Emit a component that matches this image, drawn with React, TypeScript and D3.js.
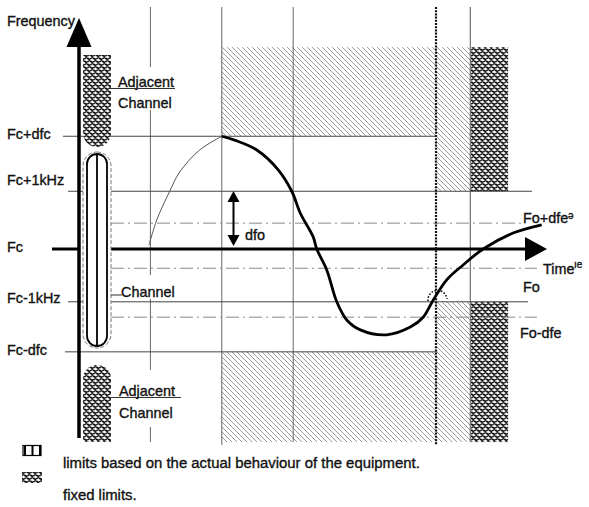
import React from "react";
import * as d3 from "d3";

// ---- data (time in arbitrary units, frequency offset in kHz from Fc) ----
const freqLabels = ["Fc+dfc", "Fc+1kHz", "Fc", "Fc-1kHz", "Fc-dfc"];
const freqLevels = [2.05, 1.05, 0, -0.96, -1.87];
const foLabels = ["Fo+dfe", "Fo", "Fo-dfe"];
const foLevels = [0.47, -0.35, -1.24];
const timeLines = [1, 2, 3, 5, 5.48];
const fixedBlock = [5.49, 6.01];
const thinCurve: [number, number][] = [
  [0.98, 0.07], [1.09, 0.53], [1.27, 1.05], [1.41, 1.4], [1.69, 1.8], [2.0, 2.05],
];
const thickCurve: [number, number][] = [
  [2.0, 2.05], [2.18, 1.98], [2.49, 1.8], [2.79, 1.44], [2.98, 1.05], [3.1, 0.65],
  [3.28, 0.22], [3.33, 0], [3.47, -0.38], [3.61, -0.96], [3.75, -1.29], [3.94, -1.47],
  [4.31, -1.56], [4.64, -1.42], [4.82, -1.24], [4.96, -0.93], [5.15, -0.56],
  [5.38, -0.29], [5.66, 0], [6.08, 0.29], [6.48, 0.44],
];
const fTop = 3.67;
const fBottom = -3.51;

const W = 589;
const H = 507;
const FONT = "'Liberation Sans', Arial, Helvetica, sans-serif";

export default function App() {
  const x = d3.scaleLinear().domain([0, 1]).range([79, 150.4]);
  const y = d3.scaleLinear().domain([0, 1]).range([249, 194]);
  const line = d3
    .line<[number, number]>()
    .x((d) => x(d[0]))
    .y((d) => y(d[1]))
    .curve(d3.curveCatmullRom.alpha(0.5));

  const axX = x(0);
  const yTopLine = 7;
  const yBot = y(fBottom);
  const yHatchTop = y(fTop);
  const [yFcdfc, yF1k, yFc, yFm1k, yFmdfc] = freqLevels.map((v) => y(v));
  const tx = timeLines.map((t) => x(t));
  const blkL = axX + 4;
  const blkR = axX + 32;
  const labelLeftEnds = [63, 68, 52, 68, 65];
  const rightEnds = [tx[3], 532, 0, 528, tx[3]];

  const txt = (s: string, xx: number, yy: number, size = 14.4) => (
    <text x={xx} y={yy} fontSize={size} fontFamily={FONT} fill="#111" stroke="#111" strokeWidth={0.35}>
      {s}
    </text>
  );

  return (
    <svg
      width={W}
      height={H}
      style={{ position: "absolute", left: 0, top: 0, background: "#fff" }}
    >
      <defs>
        <pattern id="hatch" patternUnits="userSpaceOnUse" width={5} height={5}>
          <path d="M0,0 L5,5 M-1,4 L1,6 M4,-1 L6,1" stroke="#8c8c8c" strokeWidth={0.9} />
        </pattern>
        <pattern id="cross" patternUnits="userSpaceOnUse" width={6} height={6}>
          <rect width={6} height={6} fill="#fff" />
          <path d="M0,1 L3,2.6 M3,4 L6,5.6" stroke="#111" strokeWidth={1.9} />
          <path d="M3.2,2 L6,0.4 M0,5 L2.8,3.4" stroke="#222" strokeWidth={1.5} />
        </pattern>
      </defs>

      {/* hatched regions */}
      <rect x={tx[1]} y={yHatchTop} width={tx[3] - tx[1]} height={yFcdfc - yHatchTop} fill="url(#hatch)" />
      <rect x={tx[3]} y={yHatchTop} width={tx[4] - tx[3]} height={yF1k - yHatchTop} fill="url(#hatch)" />
      <rect x={tx[1]} y={yFmdfc} width={tx[3] - tx[1]} height={yBot - yFmdfc} fill="url(#hatch)" />
      <rect x={tx[3]} y={yFm1k} width={tx[4] - tx[3]} height={yBot - yFm1k} fill="url(#hatch)" />

      {/* fixed limit blocks right */}
      <rect x={x(fixedBlock[0])} y={yHatchTop} width={x(fixedBlock[1]) - x(fixedBlock[0])} height={yF1k - yHatchTop} fill="url(#cross)" />
      <rect x={x(fixedBlock[0])} y={yFm1k} width={x(fixedBlock[1]) - x(fixedBlock[0])} height={yBot - yFm1k} fill="url(#cross)" />

      {/* vertical time lines */}
      <line x1={tx[0]} x2={tx[0]} y1={yTopLine} y2={67} stroke="#666" />
      <line x1={tx[0]} x2={tx[0]} y1={110} y2={275} stroke="#666" />
      <line x1={tx[0]} x2={tx[0]} y1={299} y2={370} stroke="#666" />
      <line x1={tx[0]} x2={tx[0]} y1={427} y2={yBot} stroke="#666" />
      <line x1={tx[1]} x2={tx[1]} y1={yTopLine} y2={yBot + 3} stroke="#666" />
      <line x1={tx[2]} x2={tx[2]} y1={yTopLine} y2={yBot} stroke="#666" />
      <line x1={tx[4]} x2={tx[4]} y1={yTopLine} y2={yBot} stroke="#555" />

      {/* dash-dot Fo lines */}
      {foLevels.map((v, i) => (
        <line key={"fo" + i} x1={blkR} x2={i === 0 ? 522 : 537} y1={y(v)} y2={y(v)} stroke="#8a8a8a" strokeWidth={1} strokeDasharray="13 4 2 4" />
      ))}

      {/* solid frequency lines */}
      {freqLevels.map((v, i) =>
        i === 2 ? null : (
          <g key={"fl" + i}>
            <line x1={labelLeftEnds[i]} x2={axX} y1={y(v)} y2={y(v)} stroke="#444" />
            <line x1={axX} x2={rightEnds[i]} y1={y(v)} y2={y(v)} stroke="#444" />
          </g>
        )
      )}
      {/* Fc thick line + time arrow */}
      <line x1={labelLeftEnds[2]} x2={axX} y1={yFc} y2={yFc} stroke="#000" strokeWidth={3} />
      <line x1={blkR} x2={526} y1={yFc} y2={yFc} stroke="#000" strokeWidth={3} />
      <path d={`M525,${yFc - 12} L547,${yFc} L525,${yFc + 12} Z`} fill="#000" />

      {/* dotted vertical at t=5 */}
      <line x1={tx[3]} x2={tx[3]} y1={yTopLine} y2={yBot + 3} stroke="#111" strokeWidth={2.2} strokeDasharray="2 1.2" />

      {/* left adjacent (fixed) blocks */}
      <path d={`M${blkL},55 H${blkR} V133 A14,14 0 0 1 ${blkL},133 Z`} fill="url(#cross)" />
      <path d={`M${blkL},${yBot} V379 A14,14 0 0 1 ${blkR},379 V${yBot} Z`} fill="url(#cross)" />

      {/* channel block */}
      <rect x={blkL} y={152} width={blkR - blkL} height={196} rx={14} fill="#fff" stroke="#777" strokeWidth={1} strokeDasharray="4 2" />
      <rect x={blkL + 4} y={154} width={blkR - blkL - 8} height={192} rx={10} fill="none" stroke="#000" strokeWidth={1.8} />
      <line x1={(blkL + blkR) / 2} x2={(blkL + blkR) / 2} y1={154} y2={346} stroke="#000" strokeWidth={1.8} />

      {/* frequency axis */}
      <line x1={axX} x2={axX} y1={46} y2={438} stroke="#000" strokeWidth={3.5} />
      <path d={`M${axX},18 L${axX + 12.5},47 L${axX - 12.5},47 Z`} fill="#000" />

      {/* curves */}
      <path d={line(thinCurve) ?? ""} fill="none" stroke="#555" strokeWidth={1} />
      <path d={line(thickCurve) ?? ""} fill="none" stroke="#000" strokeWidth={2.8} />

      {/* dotted small arc */}
      <path d={`M428,301 A9.5,9.5 0 0 1 447,299`} fill="none" stroke="#111" strokeWidth={1.6} strokeDasharray="1.6 1.6" />

      {/* dfo arrow */}
      <line x1={233.5} x2={233.5} y1={200} y2={237} stroke="#000" strokeWidth={2} />
      <path d="M233.5,191 L239.5,202 L227.5,202 Z" fill="#000" />
      <path d="M233.5,246 L239.5,235 L227.5,235 Z" fill="#000" />
      {txt("dfo", 245, 240)}

      {/* labels */}
      {txt("Frequency", 7, 26)}
      {freqLabels.map((s, i) => (
        <g key={"lb" + i}>{txt(s, 7, [139, 185, 252, 303, 355][i])}</g>
      ))}
      {txt("Adjacent", 118, 87)}
      <line x1={110} x2={175} y1={88.5} y2={88.5} stroke="#333" />
      {txt("Channel", 118, 108)}
      {txt("Channel", 121, 297)}
      <line x1={blkR} x2={122} y1={295} y2={295} stroke="#333" />
      {txt("Adjacent", 119, 396)}
      <line x1={blkR} x2={181} y1={397.5} y2={397.5} stroke="#333" />
      {txt("Channel", 119, 418)}

      {txt(foLabels[0], 523, 223)}
      {txt("ə", 568, 219, 10)}
      {txt("Time", 543, 274)}
      {txt("ıe", 574, 268, 10)}
      {txt(foLabels[1], 523, 292)}
      {txt(foLabels[2], 520, 338)}

      {/* legend */}
      <rect x={23} y={445.5} width={18} height={10} fill="none" stroke="#000" strokeWidth={1.2} />
      <line x1={25} x2={25} y1={445} y2={456} stroke="#000" strokeWidth={2} />
      <line x1={32.5} x2={32.5} y1={445} y2={456} stroke="#000" strokeWidth={2} />
      <line x1={40} x2={40} y1={445} y2={456} stroke="#000" strokeWidth={2} />
      {txt("limits based on the actual behaviour of the equipment.", 63, 468, 14.9)}
      <rect x={22} y={472} width={20} height={11} fill="url(#cross)" />
      {txt("fixed limits.", 63, 500, 14.9)}
    </svg>
  );
}
